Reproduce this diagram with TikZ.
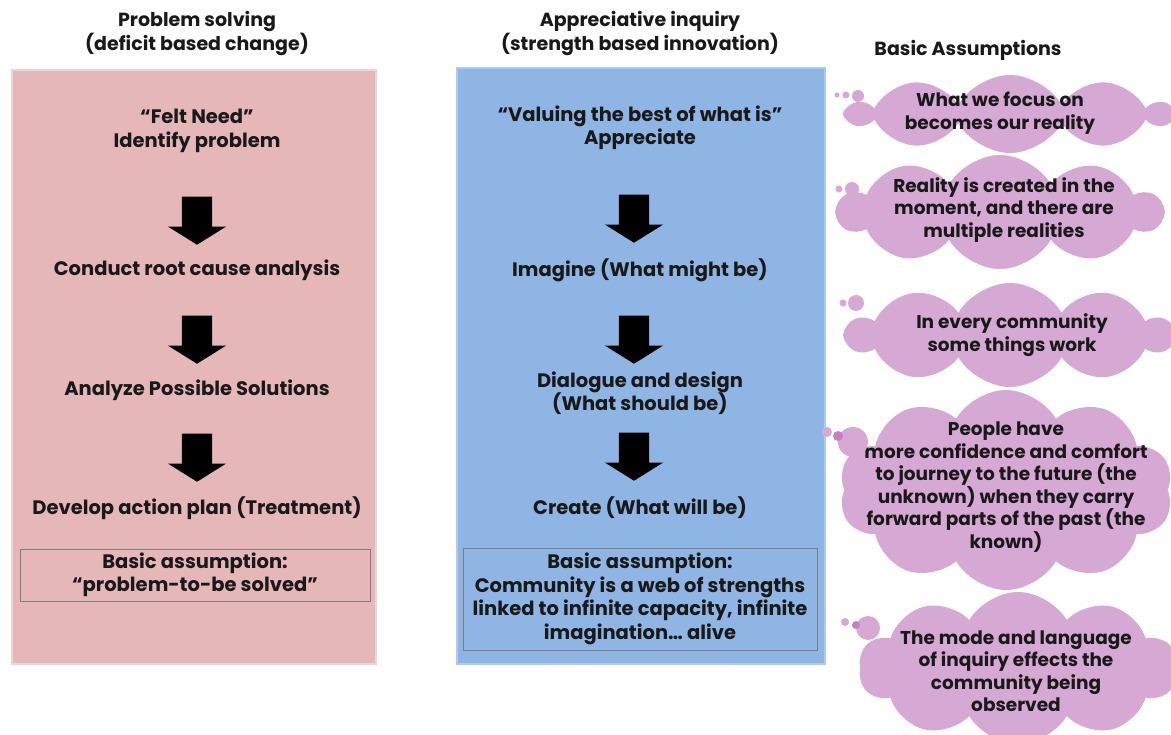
\documentclass[tikz,border=0pt]{standalone}
\usepackage{fontspec}
\setmainfont{Poppins}
\usepackage{xcolor}
\usepackage{tikz}
\usetikzlibrary{positioning,shapes.arrows,shapes.symbols}
\definecolor{panelpink}{RGB}{229,183,184}
\definecolor{edgepink}{RGB}{238,212,212}
\definecolor{panelblue}{RGB}{142,181,227}
\definecolor{edgeblue}{RGB}{172,203,240}
\definecolor{cloudpink}{RGB}{214,168,212}
\definecolor{bubbledark}{RGB}{196,128,196}
\definecolor{boxedge}{RGB}{125,125,125}
\definecolor{textdark}{RGB}{25,25,25}

\begin{document}
\begin{tikzpicture}[
  x=1pt, y=-1pt,
  stagetext/.style={align=center, font=\fontsize{19.5}{23.5}\selectfont\bfseries, text=textdark, inner sep=1pt},
  coltitle/.style={align=center, font=\fontsize{19}{24}\selectfont\bfseries, text=textdark},
  downarr/.style={single arrow, fill=black, rotate=-90, inner xsep=0pt, inner ysep=15pt, minimum height=48pt, single arrow head extend=14pt, single arrow tip angle=116},
  assume/.style={rectangle, draw=boxedge, line width=0.8pt, align=center, font=\fontsize{19.5}{23.5}\selectfont\bfseries, text=textdark},
  thought/.style={cloud, cloud puffs=10, cloud puff arc=120, cloud ignores aspect, fill=cloudpink, inner sep=0pt},
  thoughttext/.style={align=center, font=\fontsize{18.5}{22.5}\selectfont\bfseries, text=textdark, inner sep=0pt}
]
\useasboundingbox (0,0) rectangle (1171,735);
\clip (0,0) rectangle (1171,735);

% column titles
\node[coltitle] (probtitle) at (197,34) {Problem solving\\(deficit based change)};
\node[coltitle] (apprtitle) at (640,34) {Appreciative inquiry\\(strength based innovation)};
\node[coltitle] (basictitle) at (968,50) {Basic Assumptions};

% problem solving panel
\fill[panelpink] (12,70) rectangle (376,664);
\draw[edgepink, line width=1.2pt] (12,70) rectangle (376,664);
\node[stagetext] (felt) at (197,131) {“Felt Need”\\Identify problem};
\node[downarr] (parr1) at (197,216) {};
\node[stagetext] (rootcause) at (197,270) {Conduct root cause analysis};
\node[downarr] (parr2) at (197,335) {};
\node[stagetext] (solutions) at (197,390) {Analyze Possible Solutions};
\node[downarr] (parr3) at (197,453) {};
\node[stagetext] (actionplan) at (197,508) {Develop action plan (Treatment)};
\node[assume, minimum width=350pt, minimum height=52pt] (probassume) at (195,575) {Basic assumption:\\“problem-to-be solved”};

% appreciative inquiry panel
\fill[panelblue] (457,68) rectangle (825,664);
\draw[edgeblue, line width=1.2pt] (457,68) rectangle (825,664);
\node[stagetext] (valuing) at (640,128) {“Valuing the best of what is”\\Appreciate};
\node[downarr] (aarr1) at (634,214) {};
\node[stagetext] (imagine) at (640,270) {Imagine (What might be)};
\node[downarr] (aarr2) at (634,335) {};
\node[stagetext] (dialogue) at (640,393) {Dialogue and design\\(What should be)};
\node[downarr] (aarr3) at (634,452) {};
\node[stagetext] (create) at (640,508) {Create (What will be)};
\node[assume, minimum width=354pt, minimum height=102pt] (apprassume) at (640,599) {Basic assumption:\\Community is a web of strengths\\linked to infinite capacity, infinite\\imagination… alive};

% thought clouds
\node[thought, minimum width=322pt, minimum height=78pt] (focus) at (1010,114) {};
\node[thoughttext] (focustext) at (1000,113) {What we focus on\\becomes our reality};
\node[thought, minimum width=324pt, minimum height=114pt] (created) at (1000,212) {};
\node[thoughttext] (createdtext) at (1004,210) {Reality is created in the\\moment, and there are\\multiple realities};
\node[thought, minimum width=326pt, minimum height=104pt] (works) at (1010,335) {};
\node[thoughttext] (workstext) at (1012,335) {In every community\\some things work};
\node[thought, minimum width=334pt, minimum height=200pt] (journey) at (1006,490) {};
\node[thoughttext] (journeytext) at (1006,487) {People have\\more confidence and comfort\\to journey to the future (the\\unknown) when they carry\\forward parts of the past (the\\known)};
\node[thought, minimum width=318pt, minimum height=152pt] (mode) at (1018,668) {};
\node[thoughttext] (modetext) at (1016,671) {The mode and language\\of inquiry effects the\\community being\\observed};

% small bubbles
\fill[cloudpink] (837,95) circle (2.5) (846,95) circle (3.5) (858,96) circle (6);
\fill[cloudpink] (839,189) circle (3.5) (852,189) circle (7);
\fill[cloudpink] (843,303) circle (3.5) (856,303) circle (8);
\fill[cloudpink] (827,432) circle (5) (853,442) circle (15);
\fill[bubbledark] (838,436) circle (5);
\fill[cloudpink] (845,622) circle (4) (868,628) circle (12);
\fill[bubbledark] (856,625) circle (4);
\end{tikzpicture}
\end{document}
